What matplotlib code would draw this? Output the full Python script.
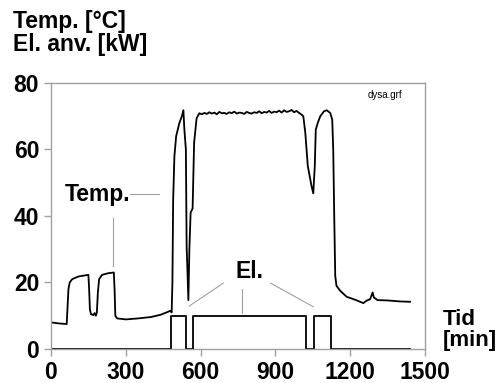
import matplotlib
matplotlib.use('Agg')
from matplotlib import pyplot as plt

# temperature curve [min, degC]
tempTime = [0, 30, 63, 66, 70, 75, 85, 110, 150, 153, 156, 160, 170, 175, 180, 184, 188, 193, 205, 230, 252,
            255, 258, 265, 300, 350, 400, 440, 470, 478, 484, 487, 490, 495, 502, 515, 525, 531, 535, 541, 544,
            551, 555, 560, 568, 574, 584, 595,
            605, 615, 625, 635, 645, 655, 665, 675, 685, 695, 705, 715, 725, 735, 745, 755, 765, 775, 785, 795,
            805, 815, 825, 835, 845, 855, 865, 875, 885, 895, 905, 915, 925, 935, 945, 955, 965, 975, 985, 995,
            1005, 1012, 1020, 1030, 1045, 1052, 1058, 1062, 1070, 1080, 1095, 1106, 1120, 1128, 1132, 1136, 1140,
            1145, 1160, 1186, 1220, 1253, 1265, 1280, 1290, 1295, 1310, 1350, 1400, 1440]
tempVal = [8.0, 7.7, 7.5, 12, 18, 20, 21, 21.8, 22.3, 18, 12, 10.5, 10.2, 10.8, 10, 11, 17, 21, 22.3, 22.8, 23,
           18, 10, 9.2, 8.9, 9.2, 9.6, 10.3, 11.2, 11.5, 11.0, 20, 45, 58, 64, 68, 70, 71.8, 66, 60, 31,
           14.7, 30, 41, 42.3, 62, 69.4, 70.9,
           70.6, 71.0, 70.7, 71.2, 70.8, 71.1, 70.6, 71.3, 70.9, 71.0, 70.7, 71.2, 70.9, 71.4, 70.8, 71.1, 71.0,
           70.7, 71.3, 71.0, 70.8, 71.2, 71.0, 71.5, 70.9, 71.3, 71.1, 71.6, 71.0, 71.4, 71.2, 71.7, 71.1, 71.8,
           71.3, 71.5, 71.9, 71.2, 71.6, 71.0, 70.5, 70, 65, 55, 49, 46.8, 55, 66, 68, 70, 71.5, 71.8, 71,
           69, 60, 40, 22, 19, 17.5, 15.7, 14.8, 13.8, 14.5, 15, 17, 15.5, 14.7, 14.6, 14.3, 14.2]

# electric power [min, kW]
elTime = [0, 481, 481, 540, 540, 571, 571, 1022, 1022, 1056, 1056, 1122, 1122, 1440]
elVal = [0, 0, 10, 10, 0, 0, 10, 10, 0, 0, 10, 10, 0, 0]

xTicks = [0, 300, 600, 900, 1200, 1500]
yTicks = [0, 20, 40, 60, 80]

plt.rcParams['font.family'] = ['Liberation Sans', 'DejaVu Sans']

fig = plt.figure(figsize=(4.97, 3.83), dpi=100)
ax = fig.add_axes([0.1026, 0.0888, 0.7525, 0.6945])

ax.plot(tempTime, tempVal, color='black', lw=1.3)
ax.plot(elTime, elVal, color='black', lw=1.3)

ax.set_xlim(0, 1500)
ax.set_ylim(0, 80)
ax.set_xticks(xTicks)
ax.set_yticks(yTicks)
for s in ax.spines.values():
    s.set_color('#a0a0a0')
    s.set_linewidth(1.0)
ax.tick_params(colors='#a0a0a0', labelcolor='black', length=5, width=1.0, labelsize=16.5)
for lab in ax.get_xticklabels() + ax.get_yticklabels():
    lab.set_fontweight('bold')

grey = '#a0a0a0'
ax.text(185, 46.6, 'Temp.', fontsize=16.5, fontweight='bold', ha='center', va='center')
ax.plot([317, 433], [46.6, 46.6], color=grey, lw=0.8)
ax.plot([247, 247], [39.4, 25], color=grey, lw=0.8)

ax.text(798, 23.2, 'El.', fontsize=16.5, fontweight='bold', ha='center', va='center')
ax.plot([691, 554], [19.8, 12.9], color=grey, lw=0.8)
ax.plot([765, 765], [18, 10.8], color=grey, lw=0.8)
ax.plot([881, 1052], [19.8, 12.7], color=grey, lw=0.8)

ax.text(1340, 76.4, 'dysa.grf', fontsize=7, ha='center', va='center')

fig.text(0.026, 0.975, 'Temp. [°C]\nEl. anv. [kW]', fontsize=16.5, fontweight='bold', ha='left', va='top',
         linespacing=1.05)
fig.text(0.891, 0.083, 'Tid\n[min]', fontsize=16, fontweight='bold', ha='left', va='bottom',
         linespacing=1.0)

fig.savefig('out.png', dpi=100)
